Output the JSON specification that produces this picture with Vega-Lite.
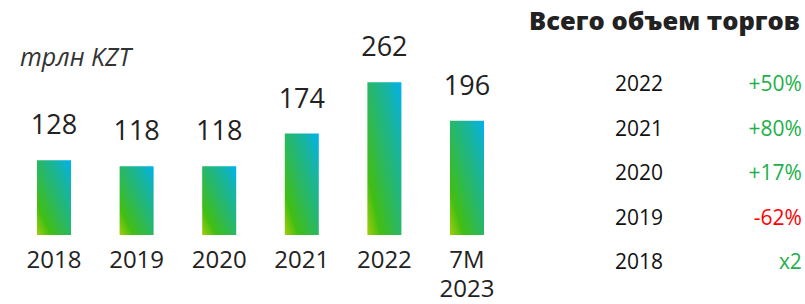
{
  "$schema": "https://vega.github.io/schema/vega-lite/v6.json",
  "padding": 0,
  "spacing": 0,
  "background": "white",
  "config": {"view": {"stroke": null}, "font": "Open Sans"},
  "datasets": {
    "bars": [
      {"period": "2018", "value": 128},
      {"period": "2019", "value": 118},
      {"period": "2020", "value": 118},
      {"period": "2021", "value": 174},
      {"period": "2022", "value": 262},
      {"period": "7M 2023", "value": 196}
    ],
    "growth": [
      {"year": 2022, "change": "+50%", "dir": "up"},
      {"year": 2021, "change": "+80%", "dir": "up"},
      {"year": 2020, "change": "+17%", "dir": "up"},
      {"year": 2019, "change": "-62%", "dir": "down"},
      {"year": 2018, "change": "x2", "dir": "up"}
    ],
    "unit": [{"label": "трлн KZT"}],
    "heading": [{"label": "Всего объем торгов"}]
  },
  "hconcat": [
    {
      "width": 521,
      "height": 235,
      "layer": [
        {
          "data": {"name": "bars"},
          "mark": {
            "type": "bar",
            "color": {
              "gradient": "linear",
              "x1": 0, "y1": 1, "x2": 1, "y2": 0,
              "stops": [
                {"offset": 0, "color": "#a2cd0c"},
                {"offset": 0.2, "color": "#42be12"},
                {"offset": 0.48, "color": "#2ab860"},
                {"offset": 0.78, "color": "#15b4a8"},
                {"offset": 1, "color": "#00b1ee"}
              ]
            }
          },
          "encoding": {
            "x": {
              "field": "period", "type": "nominal", "sort": null,
              "scale": {"paddingInner": 0.588, "paddingOuter": 0.448},
              "axis": {
                "title": null, "domain": false, "ticks": false,
                "labelAngle": 0, "labelFontSize": 24, "labelColor": "#222",
                "labelFont": "Open Sans", "labelPadding": 13,
                "labelLineHeight": 29, "labelBaseline": "top",
                "labelExpr": "split(datum.label, ' ')"
              }
            },
            "y": {
              "field": "value", "type": "quantitative",
              "scale": {"domain": [0, 403], "nice": false},
              "axis": null
            }
          }
        },
        {
          "data": {"name": "bars"},
          "mark": {"type": "text", "fontSize": 27, "color": "#222", "baseline": "bottom", "dy": -20},
          "encoding": {
            "x": {"field": "period", "type": "nominal", "sort": null},
            "y": {"field": "value", "type": "quantitative"},
            "text": {"field": "value", "type": "quantitative"}
          }
        },
        {
          "data": {"name": "unit"},
          "mark": {"type": "text", "fontSize": 25, "fontStyle": "italic", "color": "#333", "align": "left", "baseline": "middle", "dx": -17},
          "encoding": {
            "x": {"datum": "2018", "type": "nominal", "bandPosition": 0},
            "y": {"datum": 304, "type": "quantitative"},
            "text": {"field": "label"}
          }
        }
      ]
    },
    {
      "width": 284,
      "height": 304,
      "layer": [
        {
          "data": {"name": "growth"},
          "mark": {"type": "text", "fontSize": 21, "color": "#111", "align": "right", "baseline": "middle"},
          "encoding": {
            "x": {"datum": 0.5, "type": "quantitative", "scale": {"domain": [0, 1]}, "axis": null},
            "y": {
              "field": "year", "type": "quantitative",
              "scale": {"domain": [2017.08, 2023.91], "nice": false, "zero": false},
              "axis": null
            },
            "text": {"field": "year", "type": "quantitative", "format": "d"}
          }
        },
        {
          "data": {"name": "growth"},
          "mark": {"type": "text", "fontSize": 21, "fontWeight": 500, "align": "right", "baseline": "middle"},
          "encoding": {
            "x": {"datum": 0.989, "type": "quantitative"},
            "y": {"field": "year", "type": "quantitative"},
            "text": {"field": "change"},
            "color": {
              "field": "dir", "type": "nominal",
              "scale": {"domain": ["up", "down"], "range": ["#1db04a", "#ff0000"]},
              "legend": null
            }
          }
        },
        {
          "data": {"name": "heading"},
          "mark": {"type": "text", "fontSize": 25.5, "fontWeight": 800, "color": "#222", "align": "right", "baseline": "middle"},
          "encoding": {
            "x": {"datum": 0.982, "type": "quantitative"},
            "y": {"datum": 2023.42, "type": "quantitative"},
            "text": {"field": "label"}
          }
        }
      ]
    }
  ]
}
